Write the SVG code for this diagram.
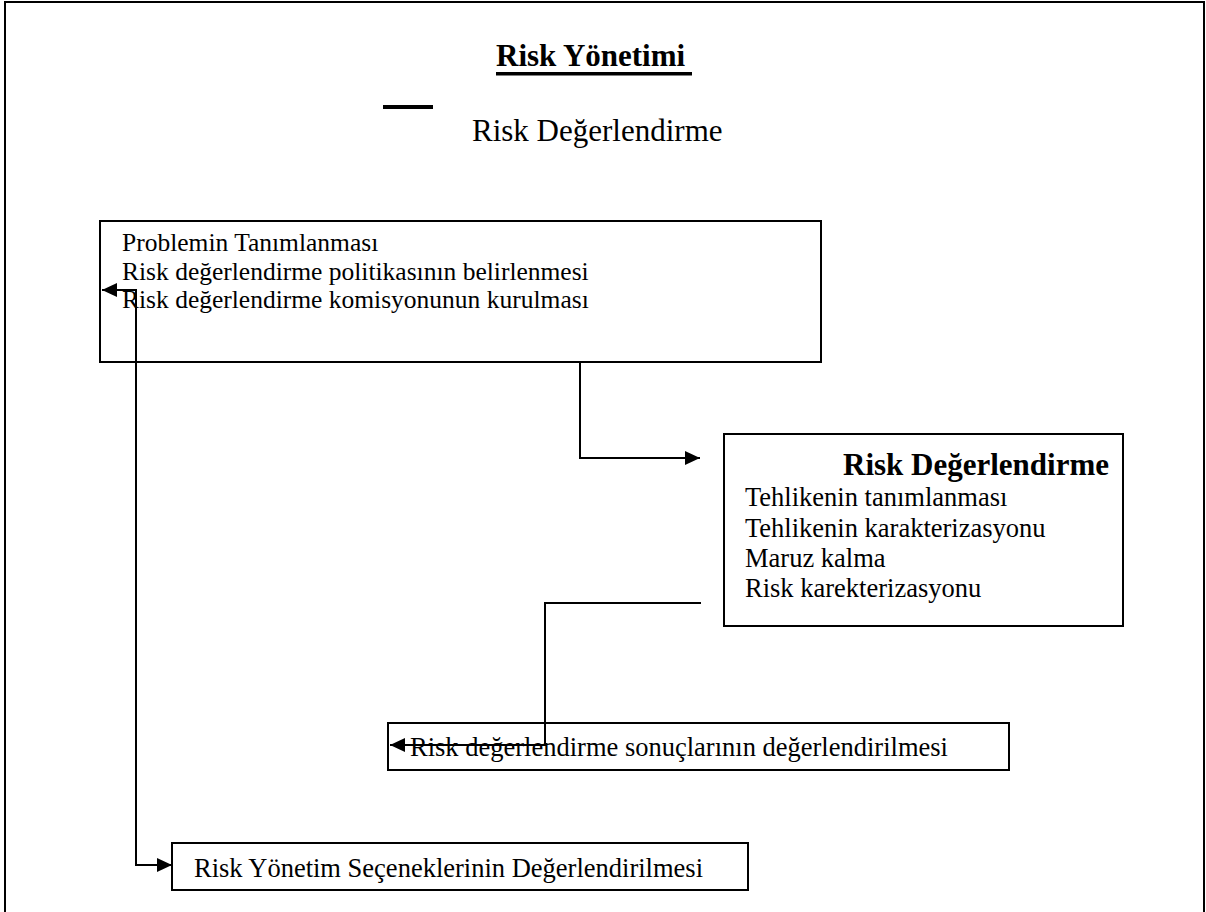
<svg xmlns="http://www.w3.org/2000/svg" width="1206" height="912" viewBox="0 0 1206 912">
<style>
.box{fill:#fff;stroke:#000;stroke-width:2}
.t{font-family:"Liberation Serif","Times New Roman",serif;fill:#000;font-size:26.5px}
.s{font-size:25.5px}
.b{font-weight:bold;font-size:31px}
.con{fill:none;stroke:#000;stroke-width:2}
</style>
<defs>
<marker id="ah" markerUnits="userSpaceOnUse" markerWidth="16" markerHeight="15" refX="15" refY="7" orient="auto-start-reverse">
<path d="M0,0 L15,7 L0,14 z" fill="#000"/>
</marker>
</defs>
<rect x="0" y="0" width="1206" height="912" fill="#fff"/>
<rect x="5" y="2" width="1199" height="930" fill="none" stroke="#000" stroke-width="2"/>
<g id="title">
<text class="t b" x="496" y="66">Risk Yönetimi</text>
<rect x="496" y="72" width="196" height="3.5" fill="#000"/>
</g>
<g id="subtitle">
<rect x="383" y="105" width="50" height="4" fill="#000"/>
<text class="t" x="472" y="141" style="font-size:31px">Risk Değerlendirme</text>
</g>
<g id="box1">
<rect class="box" x="100" y="221" width="721" height="141"/>
<text class="t s" x="122" y="251">Problemin Tanımlanması</text>
<text class="t s" x="122" y="279.5">Risk değerlendirme politikasının belirlenmesi</text>
<text class="t s" x="122" y="308">Risk değerlendirme komisyonunun kurulması</text>
</g>
<g id="box2">
<rect class="box" x="724" y="434" width="399" height="192"/>
<text class="t b" x="843" y="475">Risk Değerlendirme</text>
<text class="t" x="745" y="506">Tehlikenin tanımlanması</text>
<text class="t" x="745" y="537">Tehlikenin karakterizasyonu</text>
<text class="t" x="745" y="567">Maruz kalma</text>
<text class="t" x="745" y="597">Risk karekterizasyonu</text>
</g>
<g id="box3">
<rect class="box" x="388" y="723" width="621" height="47"/>
<text class="t" x="410" y="756">Risk değerlendirme sonuçlarının değerlendirilmesi</text>
</g>
<g id="box4">
<rect class="box" x="172" y="843" width="576" height="47"/>
<text class="t" x="194" y="877">Risk Yönetim Seçeneklerinin Değerlendirilmesi</text>
</g>
<g id="connectors">
<path class="con" d="M460,362 H580 V458 H700" marker-end="url(#ah)"/>
<path class="con" d="M701,603 H545 V745 H390" marker-end="url(#ah)"/>
<path class="con" d="M102,290 H136 V865 H172" marker-start="url(#ah)" marker-end="url(#ah)"/>
</g>
</svg>
